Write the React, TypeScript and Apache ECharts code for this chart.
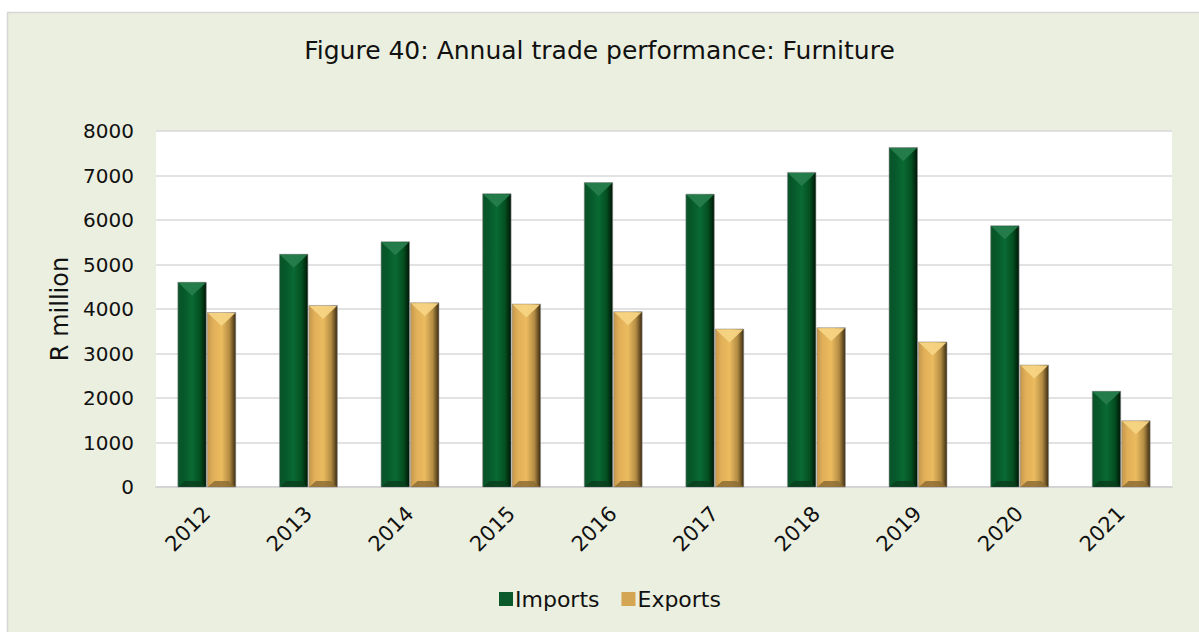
import React, { useEffect, useRef } from "react";
import * as echarts from "echarts";

const years = ["2012", "2013", "2014", "2015", "2016", "2017", "2018", "2019", "2020", "2021"];
const imports = [4600, 5230, 5510, 6590, 6840, 6580, 7070, 7630, 5870, 2150];
const exports = [3920, 4080, 4140, 4110, 3940, 3550, 3580, 3260, 2740, 1490];
const yTicks = [0, 1000, 2000, 3000, 4000, 5000, 6000, 7000, 8000];

const FONT = "DejaVu Sans";

const greenBody = new echarts.graphic.LinearGradient(0, 0, 1, 0, [
  { offset: 0, color: "#0b5329" },
  { offset: 0.2, color: "#06582a" },
  { offset: 0.5, color: "#0a6a33" },
  { offset: 0.78, color: "#045020" },
  { offset: 1, color: "#001606" },
]);
const goldBody = new echarts.graphic.LinearGradient(0, 0, 1, 0, [
  { offset: 0, color: "#c4974c" },
  { offset: 0.2, color: "#e0af58" },
  { offset: 0.5, color: "#ebbb5f" },
  { offset: 0.78, color: "#b38c44" },
  { offset: 1, color: "#3a2a10" },
]);

const palettes = {
  green: { body: greenBody, top: "#267d4c", bottom: "#0a3d1d", legend: "#0a5a2c" },
  gold: { body: goldBody, top: "#f6d483", bottom: "#8a6a32", legend: "#d4a552" },
};

function makeRender(side: number, pal: any) {
  return (params: any, api: any) => {
    const idx = api.value(0);
    const v = api.value(1);
    const top = api.coord([idx, v]);
    const bot = api.coord([idx, 0]);
    const band = api.size([1, 0])[0];
    const bw = band * 0.28;
    const cx = top[0];
    const x0 = side < 0 ? cx - bw - 0.5 : cx + 0.5;
    const yt = top[1];
    const yb = bot[1];
    const h = yb - yt;
    const tri = Math.min(bw / 2, h);
    const bb = Math.min(6, h / 3);
    return {
      type: "group",
      children: [
        {
          type: "rect",
          shape: { x: x0, y: yt, width: bw, height: h },
          style: { fill: pal.body, stroke: "rgba(140,140,140,0.7)", lineWidth: 0.8 },
        },
        {
          type: "polygon",
          shape: { points: [[x0 + 0.5, yt + 0.5], [x0 + bw - 0.5, yt + 0.5], [x0 + bw / 2, yt + tri * 0.95]] },
          style: { fill: pal.top, opacity: 0.95 },
        },
        {
          type: "polygon",
          shape: { points: [[x0 + 0.5, yb], [x0 + bw - 0.5, yb], [x0 + bw - bb - 1, yb - bb], [x0 + bb + 1, yb - bb]] },
          style: { fill: pal.bottom, opacity: 0.8 },
        },
      ],
    };
  };
}

export default function App() {
  const ref = useRef<HTMLDivElement>(null);
  useEffect(() => {
    if (!ref.current) return;
    const chart = echarts.init(ref.current, null, { renderer: "svg" });
    chart.setOption({
      animation: false,
      backgroundColor: "#ffffff",
      textStyle: { fontFamily: FONT },
      graphic: [
        {
          type: "rect",
          z: -10,
          silent: true,
          shape: { x: 7.5, y: 12.5, width: 1200, height: 630 },
          style: { fill: "#ebefdf", stroke: "#d6d6d6", lineWidth: 1.5 },
        },
      ],
      title: {
        text: "Figure 40: Annual trade performance: Furniture",
        left: "center",
        top: 33,
        textStyle: { fontFamily: FONT, fontSize: 25, fontWeight: "normal", color: "#111" },
      },
      grid: {
        left: 156,
        right: 27,
        top: 131,
        bottom: 145,
        show: true,
        backgroundColor: "#ffffff",
        borderWidth: 0,
      },
      legend: {
        bottom: 17,
        left: 494,
        itemWidth: 14,
        itemHeight: 14,
        itemGap: 22,
        icon: "rect",
        textStyle: { fontFamily: FONT, fontSize: 22, color: "#111", padding: [0, 0, 0, -3] },
        data: [
          { name: "Imports", itemStyle: { color: palettes.green.legend } },
          { name: "Exports", itemStyle: { color: palettes.gold.legend } },
        ],
      },
      xAxis: {
        type: "category",
        data: years,
        axisLine: { show: true, lineStyle: { color: "#d4d4d4", width: 2 } },
        axisTick: { show: false },
        axisLabel: { rotate: 45, margin: 23, fontFamily: FONT, fontSize: 21, color: "#111" },
      },
      yAxis: {
        type: "value",
        min: yTicks[0],
        max: yTicks[yTicks.length - 1],
        interval: 1000,
        name: "R million",
        nameLocation: "middle",
        nameGap: 77,
        nameTextStyle: { fontFamily: FONT, fontSize: 24, color: "#111" },
        axisLabel: {
          fontFamily: FONT,
          fontSize: 20,
          color: "#111",
          margin: 22,
          formatter: (v: number) => String(v),
        },
        splitLine: { lineStyle: { color: "#d9d9d9", width: 1.5 } },
        axisLine: { show: false },
        axisTick: { show: false },
      },
      series: [
        {
          name: "Imports",
          type: "custom",
          renderItem: makeRender(-1, palettes.green),
          itemStyle: { color: palettes.green.legend },
          encode: { x: 0, y: 1 },
          data: imports.map((v, i) => [i, v]),
        },
        {
          name: "Exports",
          type: "custom",
          renderItem: makeRender(1, palettes.gold),
          itemStyle: { color: palettes.gold.legend },
          encode: { x: 0, y: 1 },
          data: exports.map((v, i) => [i, v]),
        },
      ],
    });
    return () => chart.dispose();
  }, []);
  return (
    <div
      ref={ref}
      style={{ position: "absolute", left: 0, top: 0, width: 1199, height: 632 }}
    />
  );
}
